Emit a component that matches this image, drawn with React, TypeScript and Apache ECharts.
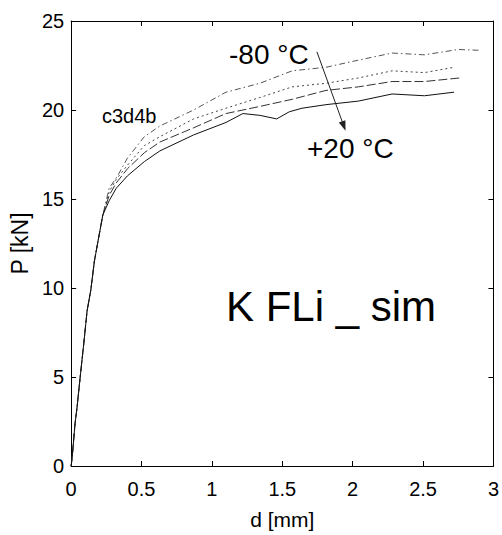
import React, { useEffect, useRef } from "react";
import * as echarts from "echarts";

// shared initial (elastic) branch, all four curves coincide
const dBase = [0, 0.008, 0.028, 0.042, 0.063, 0.09, 0.113, 0.14, 0.165, 0.19, 0.225];
const pBase = [0, 0.55, 2.4, 3.3, 4.9, 6.9, 8.7, 9.9, 11.5, 12.6, 14.1];

// -80 °C (dash-dot, top)
const dM80 = [0.27, 0.33, 0.4, 0.52, 0.63, 0.87, 1.1, 1.34, 1.57, 1.81, 2.04, 2.28, 2.51, 2.75, 2.91];
const pM80 = [15.6, 16.3, 17.3, 18.5, 19.1, 20.0, 21.0, 21.5, 22.2, 22.4, 22.8, 23.2, 23.1, 23.4, 23.35];

// dotted
const dDot = [0.27, 0.32, 0.4, 0.52, 0.63, 0.87, 1.1, 1.34, 1.57, 1.81, 2.04, 2.28, 2.51, 2.72];
const pDot = [15.4, 16.1, 16.9, 18.0, 18.5, 19.5, 20.1, 20.7, 21.3, 21.5, 21.8, 22.2, 22.1, 22.4];

// dashed
const dDash = [0.27, 0.32, 0.4, 0.52, 0.63, 0.87, 1.1, 1.34, 1.57, 1.81, 2.04, 2.28, 2.51, 2.76];
const pDash = [15.2, 15.9, 16.7, 17.6, 18.2, 19.0, 19.8, 20.2, 20.6, 21.1, 21.3, 21.6, 21.6, 21.8];

// +20 °C (solid, bottom)
const dP20 = [0.27, 0.32, 0.4, 0.52, 0.63, 0.87, 1.1, 1.22, 1.34, 1.46, 1.55, 1.64, 1.81, 2.04, 2.28, 2.51, 2.72];
const pP20 = [14.9, 15.6, 16.3, 17.1, 17.7, 18.6, 19.3, 19.8, 19.7, 19.5, 19.9, 20.1, 20.3, 20.5, 20.9, 20.8, 21.0];

const xTicks = { min: 0, max: 3, interval: 0.5 };
const yTicks = { min: 0, max: 25, interval: 5 };

const FONT = "'Liberation Sans', Arial, Helvetica, sans-serif";

function pairs(d0: number[], p0: number[], d: number[], p: number[]) {
  const ds = d0.concat(d);
  const ps = p0.concat(p);
  return ds.map((v, i) => [v, ps[i]]);
}

export default function App() {
  const ref = useRef<HTMLDivElement>(null);
  useEffect(() => {
    if (!ref.current) return;
    const chart = echarts.init(ref.current, undefined, { renderer: "svg" });
    const axisCommon = {
      axisLine: { show: true, onZero: false, lineStyle: { color: "#000", width: 1 } },
      axisTick: { show: true, inside: true, length: 5, lineStyle: { color: "#000" } },
      splitLine: { show: false },
    };
    const mkLine = (name: string, data: number[][], type: any, color: string) => ({
      name,
      type: "line",
      data,
      showSymbol: false,
      symbol: "none",
      lineStyle: { color, width: 1, type },
      z: 3,
    });
    chart.setOption({
      animation: false,
      backgroundColor: "#fff",
      grid: { left: 70, right: 6, top: 21, bottom: 65, show: false },
      xAxis: [
        {
          type: "value",
          ...xTicks,
          ...axisCommon,
          name: "d [mm]",
          nameLocation: "middle",
          nameGap: 43,
          nameTextStyle: { fontFamily: FONT, fontSize: 21, color: "#000" },
          axisLabel: { fontFamily: FONT, fontSize: 20, color: "#000", margin: 13 },
        },
        {
          type: "value",
          position: "top",
          ...xTicks,
          ...axisCommon,
          axisLabel: { show: false },
        },
      ],
      yAxis: [
        {
          type: "value",
          ...yTicks,
          ...axisCommon,
          name: "P [kN]",
          nameLocation: "middle",
          nameGap: 40,
          nameTextStyle: { fontFamily: FONT, fontSize: 23, color: "#000" },
          axisLabel: { fontFamily: FONT, fontSize: 20, color: "#000", margin: 7 },
        },
        {
          type: "value",
          position: "right",
          ...yTicks,
          ...axisCommon,
          axisLabel: { show: false },
        },
      ],
      series: [
        mkLine("-80 °C", pairs(dBase, pBase, dM80, pM80), [6, 3, 1.5, 3], "#555"),
        mkLine("dotted", pairs(dBase, pBase, dDot, pDot), [2, 3], "#444"),
        mkLine("dashed", pairs(dBase, pBase, dDash, pDash), [9, 3], "#333"),
        {
          ...mkLine("+20 °C", pairs(dBase, pBase, dP20, pP20), "solid", "#111"),
          markLine: {
            silent: true,
            symbol: ["none", "triangle"],
            symbolSize: [7, 10],
            label: { show: false },
            lineStyle: { color: "#222", width: 1, type: "solid" },
            data: [[{ coord: [1.746, 23.27] }, { coord: [1.937, 19.1] }]],
          },
        },
      ],
      graphic: [
        {
          type: "text",
          left: 102,
          top: 106,
          style: { text: "c3d4b", font: `20px ${FONT}`, fill: "#000" },
        },
        {
          type: "text",
          left: 229,
          top: 40,
          style: { text: "-80 °C", font: `28px ${FONT}`, fill: "#000" },
        },
        {
          type: "text",
          left: 307,
          top: 134,
          style: { text: "+20 °C", font: `28px ${FONT}`, fill: "#000" },
        },
        {
          type: "text",
          left: 226,
          top: 285,
          style: { text: "K FLi _ sim", font: `42px ${FONT}`, fill: "#000" },
        },
      ],
    });
    return () => chart.dispose();
  }, []);
  return (
    <div
      ref={ref}
      style={{ position: "fixed", left: 0, top: 0, width: 502, height: 535, background: "#fff" }}
    />
  );
}
